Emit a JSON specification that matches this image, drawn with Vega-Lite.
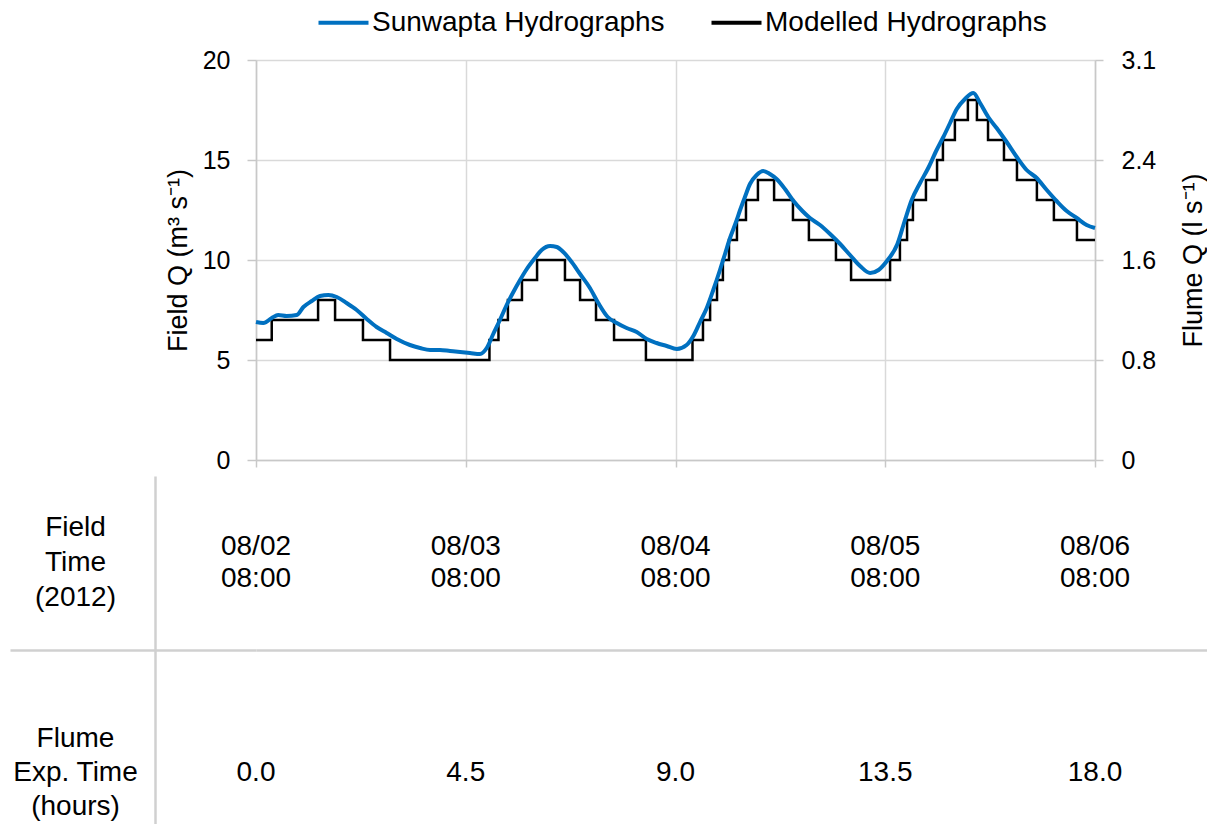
{
  "$schema": "https://vega.github.io/schema/vega-lite/v6.json",
  "background": "white",
  "padding": {"left": 10, "top": 8, "right": 0, "bottom": 0},
  "config": {
    "view": {"stroke": null},
    "font": "Liberation Sans",
    "text": {"font": "Liberation Sans", "color": "black"},
    "axis": {"labelFont": "Liberation Sans", "titleFont": "Liberation Sans"},
    "legend": {"labelFont": "Liberation Sans"}
  },
  "datasets": {
    "sunwapta": [
      {"day": 0.000, "q": 6.9}, {"day": 0.035, "q": 6.85}, {"day": 0.075, "q": 7.1}, {"day": 0.106, "q": 7.25},
      {"day": 0.146, "q": 7.2}, {"day": 0.194, "q": 7.25}, {"day": 0.226, "q": 7.65}, {"day": 0.266, "q": 7.95},
      {"day": 0.305, "q": 8.2}, {"day": 0.345, "q": 8.25}, {"day": 0.385, "q": 8.15}, {"day": 0.432, "q": 7.85},
      {"day": 0.480, "q": 7.5}, {"day": 0.528, "q": 7.05}, {"day": 0.575, "q": 6.65}, {"day": 0.623, "q": 6.35},
      {"day": 0.671, "q": 6.05}, {"day": 0.734, "q": 5.75}, {"day": 0.782, "q": 5.6}, {"day": 0.830, "q": 5.5},
      {"day": 0.877, "q": 5.5}, {"day": 0.925, "q": 5.45}, {"day": 0.973, "q": 5.4}, {"day": 1.020, "q": 5.35},
      {"day": 1.068, "q": 5.3}, {"day": 1.100, "q": 5.6}, {"day": 1.131, "q": 6.3}, {"day": 1.163, "q": 7.0},
      {"day": 1.195, "q": 7.75}, {"day": 1.227, "q": 8.4}, {"day": 1.259, "q": 9.0}, {"day": 1.291, "q": 9.55},
      {"day": 1.330, "q": 10.1}, {"day": 1.362, "q": 10.5}, {"day": 1.402, "q": 10.7}, {"day": 1.434, "q": 10.65},
      {"day": 1.465, "q": 10.4}, {"day": 1.505, "q": 9.9}, {"day": 1.545, "q": 9.3}, {"day": 1.592, "q": 8.6},
      {"day": 1.632, "q": 7.85}, {"day": 1.677, "q": 7.15}, {"day": 1.720, "q": 6.85}, {"day": 1.767, "q": 6.6},
      {"day": 1.815, "q": 6.4}, {"day": 1.863, "q": 6.05}, {"day": 1.910, "q": 5.85}, {"day": 1.958, "q": 5.7},
      {"day": 2.006, "q": 5.55}, {"day": 2.053, "q": 5.75}, {"day": 2.085, "q": 6.2}, {"day": 2.117, "q": 6.9},
      {"day": 2.149, "q": 7.6}, {"day": 2.180, "q": 8.5}, {"day": 2.212, "q": 9.5}, {"day": 2.236, "q": 10.3},
      {"day": 2.260, "q": 11.1}, {"day": 2.292, "q": 12.0}, {"day": 2.308, "q": 12.5}, {"day": 2.331, "q": 13.15},
      {"day": 2.355, "q": 13.8}, {"day": 2.387, "q": 14.25}, {"day": 2.418, "q": 14.45}, {"day": 2.450, "q": 14.3},
      {"day": 2.482, "q": 14.05}, {"day": 2.522, "q": 13.55}, {"day": 2.559, "q": 13.0}, {"day": 2.605, "q": 12.45},
      {"day": 2.641, "q": 12.1}, {"day": 2.689, "q": 11.75}, {"day": 2.737, "q": 11.3}, {"day": 2.785, "q": 10.8},
      {"day": 2.832, "q": 10.25}, {"day": 2.880, "q": 9.7}, {"day": 2.928, "q": 9.35}, {"day": 2.968, "q": 9.5},
      {"day": 3.008, "q": 9.95}, {"day": 3.058, "q": 10.8}, {"day": 3.094, "q": 12.0}, {"day": 3.126, "q": 13.0},
      {"day": 3.166, "q": 13.85}, {"day": 3.205, "q": 14.6}, {"day": 3.245, "q": 15.5}, {"day": 3.277, "q": 16.15},
      {"day": 3.309, "q": 16.85}, {"day": 3.341, "q": 17.55}, {"day": 3.380, "q": 18.05}, {"day": 3.420, "q": 18.35},
      {"day": 3.452, "q": 17.85}, {"day": 3.491, "q": 17.15}, {"day": 3.531, "q": 16.6}, {"day": 3.579, "q": 15.9},
      {"day": 3.627, "q": 15.15}, {"day": 3.674, "q": 14.5}, {"day": 3.722, "q": 14.1}, {"day": 3.770, "q": 13.5},
      {"day": 3.817, "q": 12.95}, {"day": 3.865, "q": 12.45}, {"day": 3.913, "q": 12.1}, {"day": 3.960, "q": 11.75},
      {"day": 4.000, "q": 11.6}
    ],
    "modelled": [
      {"day": 0.000, "q": 6}, {"day": 0.075, "q": 7}, {"day": 0.296, "q": 8}, {"day": 0.377, "q": 7},
      {"day": 0.510, "q": 6}, {"day": 0.639, "q": 5}, {"day": 1.113, "q": 6}, {"day": 1.156, "q": 7},
      {"day": 1.201, "q": 8}, {"day": 1.268, "q": 9}, {"day": 1.340, "q": 10}, {"day": 1.473, "q": 9},
      {"day": 1.545, "q": 8}, {"day": 1.621, "q": 7}, {"day": 1.707, "q": 6}, {"day": 1.859, "q": 5},
      {"day": 2.081, "q": 6}, {"day": 2.131, "q": 7}, {"day": 2.165, "q": 8}, {"day": 2.198, "q": 9},
      {"day": 2.226, "q": 10}, {"day": 2.255, "q": 11}, {"day": 2.293, "q": 12}, {"day": 2.336, "q": 13},
      {"day": 2.393, "q": 14}, {"day": 2.470, "q": 13}, {"day": 2.560, "q": 12}, {"day": 2.636, "q": 11},
      {"day": 2.765, "q": 10}, {"day": 2.837, "q": 9}, {"day": 3.023, "q": 10}, {"day": 3.070, "q": 11},
      {"day": 3.104, "q": 12}, {"day": 3.132, "q": 13}, {"day": 3.194, "q": 14}, {"day": 3.247, "q": 15},
      {"day": 3.275, "q": 16}, {"day": 3.332, "q": 17}, {"day": 3.394, "q": 18}, {"day": 3.437, "q": 17},
      {"day": 3.490, "q": 16}, {"day": 3.566, "q": 15}, {"day": 3.628, "q": 14}, {"day": 3.723, "q": 13},
      {"day": 3.804, "q": 12}, {"day": 3.914, "q": 11}, {"day": 4.000, "q": 11}
    ],
    "headers": [
      {"row": "Field Time (2012)", "header": "Field\nTime\n(2012)"},
      {"row": "Flume Exp. Time (hours)", "header": "Flume\nExp. Time\n(hours)"}
    ],
    "cells": [
      {"day": 0, "row": "Field Time (2012)", "label": "08/02\n08:00"},
      {"day": 1, "row": "Field Time (2012)", "label": "08/03\n08:00"},
      {"day": 2, "row": "Field Time (2012)", "label": "08/04\n08:00"},
      {"day": 3, "row": "Field Time (2012)", "label": "08/05\n08:00"},
      {"day": 4, "row": "Field Time (2012)", "label": "08/06\n08:00"},
      {"day": 0, "row": "Flume Exp. Time (hours)", "label": "0.0"},
      {"day": 1, "row": "Flume Exp. Time (hours)", "label": "4.5"},
      {"day": 2, "row": "Flume Exp. Time (hours)", "label": "9.0"},
      {"day": 3, "row": "Flume Exp. Time (hours)", "label": "13.5"},
      {"day": 4, "row": "Flume Exp. Time (hours)", "label": "18.0"}
    ]
  },
  "columns": 2,
  "bounds": "flush",
  "align": "each",
  "spacing": {"row": 16, "column": 101},
  "resolve": {"scale": {"color": "independent"}, "legend": {"color": "independent"}},
  "concat": [
    {
      "width": 145,
      "height": 400,
      "data": {"values": []},
      "mark": "point"
    },
    {
      "width": 839,
      "height": 400,
      "layer": [
        {
          "data": {"name": "modelled"},
          "mark": {"type": "line", "interpolate": "step-after", "strokeWidth": 2.5},
          "encoding": {
            "x": {
              "field": "day", "type": "quantitative",
              "scale": {"domain": [0, 4], "nice": false, "zero": false},
              "axis": {
                "values": [0, 1, 2, 3, 4], "labels": false, "title": null,
                "grid": true, "gridColor": "#D9D9D9", "gridWidth": 1.5,
                "domain": true, "domainColor": "#C8C8C8", "domainWidth": 1.5,
                "ticks": true, "tickSize": 7, "tickColor": "#C8C8C8", "tickWidth": 1.5
              }
            },
            "y": {
              "field": "q", "type": "quantitative",
              "scale": {"domain": [0, 20], "nice": false},
              "axis": {
                "orient": "left", "values": [0, 5, 10, 15, 20],
                "grid": true, "gridColor": "#D9D9D9", "gridWidth": 1.5,
                "domain": true, "domainColor": "#C8C8C8", "domainWidth": 1.5,
                "ticks": true, "tickSize": 9, "tickColor": "#C8C8C8", "tickWidth": 1.5,
                "labelFontSize": 25, "labelColor": "black", "labelPadding": 17,
                "title": "Field Q (m³ s⁻¹)", "titleFontSize": 27, "titleFontWeight": "normal",
                "titleColor": "black", "titlePadding": 10
              }
            },
            "color": {
              "datum": "Modelled Hydrographs",
              "scale": {"domain": ["Sunwapta Hydrographs", "Modelled Hydrographs"], "range": ["#0070C0", "#000000"]},
              "legend": {
                "orient": "none", "legendX": 73, "legendY": -52, "direction": "horizontal",
                "title": null, "symbolType": "M-2,0H2", "symbolSize": 625, "symbolStrokeWidth": 4,
                "labelFontSize": 28, "labelColor": "black", "labelOffset": 14, "labelLimit": 500,
                "columnPadding": 38, "padding": 0
              }
            }
          }
        },
        {
          "data": {"name": "sunwapta"},
          "mark": {"type": "line", "strokeWidth": 4, "interpolate": "monotone"},
          "encoding": {
            "x": {"field": "day", "type": "quantitative"},
            "y": {
              "field": "q", "type": "quantitative",
              "scale": {"domain": [0, 20], "nice": false},
              "axis": {
                "orient": "right", "values": [0, 5, 10, 15, 20], "grid": false,
                "domain": true, "domainColor": "#C8C8C8", "domainWidth": 1.5,
                "ticks": true, "tickSize": 8, "tickColor": "#C8C8C8", "tickWidth": 1.5,
                "labelFontSize": 25, "labelColor": "black", "labelPadding": 18,
                "labelExpr": "datum.value === 0 ? '0' : datum.value === 5 ? '0.8' : datum.value === 10 ? '1.6' : datum.value === 15 ? '2.4' : '3.1'",
                "title": "Flume Q (l s⁻¹)", "titleFontSize": 27, "titleFontWeight": "normal",
                "titleColor": "black", "titleAngle": -90, "titleBaseline": "top", "titlePadding": 25
              }
            },
            "color": {"datum": "Sunwapta Hydrographs"}
          }
        }
      ],
      "resolve": {"scale": {"y": "independent"}}
    },
    {
      "width": 145,
      "height": 348,
      "data": {"name": "headers"},
      "layer": [
        {
          "transform": [{"filter": "datum.row === 'Field Time (2012)'"}],
          "mark": {"type": "text", "fontSize": 28, "lineBreak": "\n", "lineHeight": 35, "dx": -7, "dy": -35, "align": "center", "baseline": "middle"},
          "encoding": {
            "y": {
              "field": "row", "type": "nominal",
              "scale": {"type": "band", "domain": ["Field Time (2012)", "Flume Exp. Time (hours)"], "paddingInner": 0, "paddingOuter": 0},
              "axis": {
                "orient": "right", "bandPosition": 0, "title": null, "labels": false, "ticks": false,
                "domain": true, "domainColor": "#D0D0D0", "domainWidth": 2.5,
                "grid": true,
                "gridColor": {"condition": {"test": "datum.value === 'Field Time (2012)'", "value": "transparent"}, "value": "#D0D0D0"},
                "gridWidth": 2.5
              }
            },
            "text": {"field": "header"}
          }
        },
        {
          "transform": [{"filter": "datum.row === 'Flume Exp. Time (hours)'"}],
          "mark": {"type": "text", "fontSize": 28, "lineBreak": "\n", "lineHeight": 34, "dx": -7, "dy": 2, "align": "center", "baseline": "middle"},
          "encoding": {
            "y": {"field": "row", "type": "nominal", "scale": {"type": "band", "domain": ["Field Time (2012)", "Flume Exp. Time (hours)"], "paddingInner": 0, "paddingOuter": 0}},
            "text": {"field": "header"}
          }
        }
      ]
    },
    {
      "width": 951,
      "height": 348,
      "data": {"name": "cells"},
      "layer": [
        {
          "transform": [{"filter": "datum.row === 'Field Time (2012)'"}],
          "mark": {"type": "text", "fontSize": 28, "lineBreak": "\n", "lineHeight": 32, "dy": -16, "align": "center", "baseline": "middle"},
          "encoding": {
            "x": {"field": "day", "type": "quantitative", "scale": {"domain": [0, 4.534], "nice": false, "zero": false}, "axis": null},
            "y": {
              "field": "row", "type": "nominal",
              "scale": {"type": "band", "domain": ["Field Time (2012)", "Flume Exp. Time (hours)"], "paddingInner": 0, "paddingOuter": 0},
              "axis": {
                "orient": "left", "bandPosition": 0, "values": ["Flume Exp. Time (hours)"],
                "title": null, "labels": false, "domain": false,
                "ticks": true, "tickSize": 101, "tickColor": "#D0D0D0", "tickWidth": 2.5,
                "grid": true, "gridColor": "#D0D0D0", "gridWidth": 2.5
              }
            },
            "text": {"field": "label"}
          }
        },
        {
          "transform": [{"filter": "datum.row === 'Flume Exp. Time (hours)'"}],
          "mark": {"type": "text", "fontSize": 28, "lineBreak": "\n", "lineHeight": 32, "dy": 36, "align": "center", "baseline": "middle"},
          "encoding": {
            "x": {"field": "day", "type": "quantitative"},
            "y": {"field": "row", "type": "nominal", "scale": {"type": "band", "domain": ["Field Time (2012)", "Flume Exp. Time (hours)"], "paddingInner": 0, "paddingOuter": 0}},
            "text": {"field": "label"}
          }
        }
      ]
    }
  ]
}
